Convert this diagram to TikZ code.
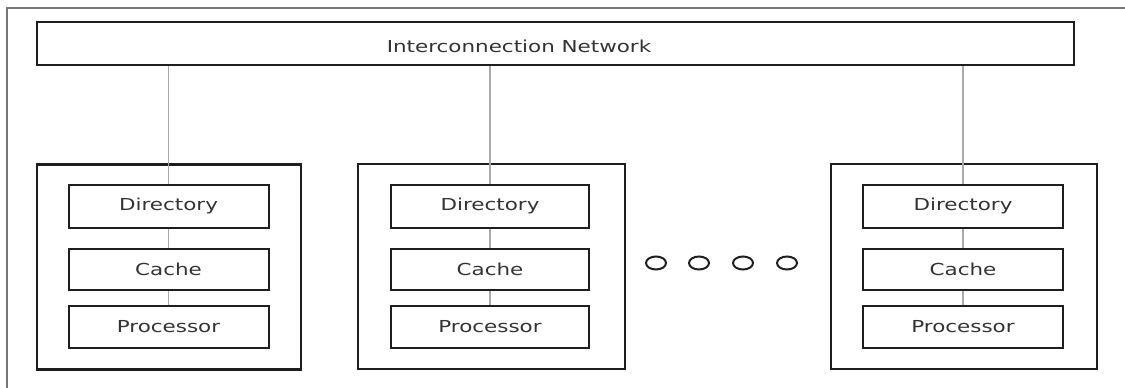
\documentclass[tikz,border=0pt]{standalone}
\usepackage{fontspec}
\setmainfont{DejaVu Sans}
\usetikzlibrary{shapes.geometric}
\definecolor{txt}{HTML}{333333}
\definecolor{boxline}{HTML}{1E1E1E}
\definecolor{conn}{HTML}{AAAAAA}
\definecolor{framec}{HTML}{777777}
\newcommand{\stretchtxt}[1]{\scalebox{1.3}[1]{#1}}
\tikzset{
  unit/.style={draw=boxline, line width=2.4pt, minimum width=266pt, minimum height=205pt, inner sep=0pt},
  part/.style={draw=boxline, line width=2pt, minimum width=200pt, minimum height=43pt, inner sep=0pt,
     text=txt, font=\fontsize{16.5}{20}\selectfont},
  netbox/.style={draw=boxline, line width=2pt, minimum width=1037pt, minimum height=43pt, inner sep=0pt},
  lbl/.style={text=txt, font=\fontsize{16.5}{20}\selectfont, inner sep=0pt},
  link/.style={draw=conn, line width=1.8pt},
  dot/.style={ellipse, draw=boxline, line width=2pt, minimum width=20pt, minimum height=13pt, inner sep=0pt},
  framel/.style={draw=framec, line width=1.5pt}
}
\begin{document}
\begin{tikzpicture}[x=1pt,y=-1pt]
\useasboundingbox (0,0) rectangle (1125,388);
\draw[framel] (7,390) -- (7,8) -- (1127,8);

\node[netbox] (net) at (555.5,43.5) {};
\node[lbl] (netlabel) at (519,46) {\stretchtxt{Interconnection Network}};

% units
\node[unit, minimum width=264pt] (u1) at (169,267) {};
\node[unit, minimum width=267pt] (u2) at (491.5,266.5) {};
\node[unit] (u3) at (964,266.5) {};

\node[part] (d1) at (168.5,206) {\stretchtxt{Directory}};
\node[part, minimum height=41pt] (c1) at (168.5,269.5) {\stretchtxt{Cache}};
\node[part, minimum height=42pt] (p1) at (168.5,327) {\stretchtxt{Processor}};

\node[part, minimum width=198pt] (d2) at (490,206) {\stretchtxt{Directory}};
\node[part, minimum width=198pt, minimum height=41pt] (c2) at (490,269.5) {\stretchtxt{Cache}};
\node[part, minimum width=198pt, minimum height=42pt] (p2) at (490,327) {\stretchtxt{Processor}};

\node[part] (d3) at (963,206) {\stretchtxt{Directory}};
\node[part, minimum height=41pt] (c3) at (963,269.5) {\stretchtxt{Cache}};
\node[part, minimum height=42pt] (p3) at (963,327) {\stretchtxt{Processor}};

% connectors
\foreach \i in {1,2,3}{
  \draw[link] (net.south -| d\i.north) -- (d\i.north);
  \draw[link] (d\i.south) -- (c\i.north);
  \draw[link] (c\i.south) -- (p\i.north);
}

% ellipsis circles
\node[dot] (o1) at (656,263) {};
\node[dot] (o2) at (699,263) {};
\node[dot] (o3) at (743,263) {};
\node[dot] (o4) at (787,263) {};
\end{tikzpicture}
\end{document}
